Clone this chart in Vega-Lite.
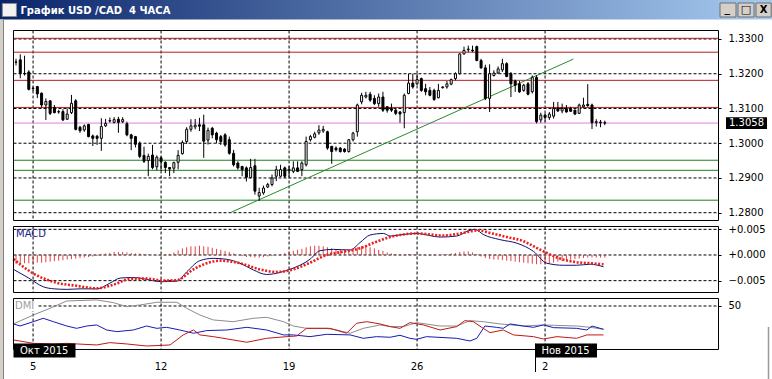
{
  "$schema": "https://vega.github.io/schema/vega-lite/v6.json",
  "width": 772,
  "height": 379,
  "autosize": {"type": "none"},
  "padding": 0,
  "background": "white",
  "config": {
    "view": {"stroke": null},
    "scale": {"continuousPadding": 0},
    "text": {"font": "DejaVu Sans", "fontSize": 10}
  },
  "data": {"values": [{}]},
  "datasets": {
    "candles": [
      {"i":0,"o":1.3233,"h":1.3243,"l":1.3224,"c":1.3234},{"i":1,"o":1.3240,"h":1.3256,"l":1.3187,"c":1.3201},{"i":2,"o":1.3200,"h":1.3252,"l":1.3195,"c":1.3201},{"i":3,"o":1.3205,"h":1.3210,"l":1.3152,"c":1.3155},{"i":4,"o":1.3158,"h":1.3163,"l":1.3150,"c":1.3157},
      {"i":5,"o":1.3163,"h":1.3165,"l":1.3130,"c":1.3142},{"i":6,"o":1.3144,"h":1.3146,"l":1.3103,"c":1.3110},{"i":7,"o":1.3110,"h":1.3129,"l":1.3067,"c":1.3120},{"i":8,"o":1.3122,"h":1.3124,"l":1.3081,"c":1.3086},{"i":9,"o":1.3103,"h":1.3110,"l":1.3086,"c":1.3088},
      {"i":10,"o":1.3090,"h":1.3096,"l":1.3085,"c":1.3091},{"i":11,"o":1.3091,"h":1.3098,"l":1.3064,"c":1.3067},{"i":12,"o":1.3069,"h":1.3100,"l":1.3067,"c":1.3084},{"i":13,"o":1.3088,"h":1.3139,"l":1.3084,"c":1.3115},{"i":14,"o":1.3122,"h":1.3127,"l":1.3037,"c":1.3040},
      {"i":15,"o":1.3046,"h":1.3050,"l":1.3030,"c":1.3036},{"i":16,"o":1.3038,"h":1.3054,"l":1.3033,"c":1.3050},{"i":17,"o":1.3054,"h":1.3056,"l":1.3017,"c":1.3019},{"i":18,"o":1.3021,"h":1.3025,"l":1.2992,"c":1.3014},{"i":19,"o":1.3020,"h":1.3024,"l":1.2995,"c":1.3014},
      {"i":20,"o":1.3014,"h":1.3072,"l":1.2978,"c":1.3048},{"i":21,"o":1.3050,"h":1.3070,"l":1.3047,"c":1.3057},{"i":22,"o":1.3064,"h":1.3074,"l":1.3059,"c":1.3065},{"i":23,"o":1.3060,"h":1.3075,"l":1.3057,"c":1.3068},{"i":24,"o":1.3069,"h":1.3076,"l":1.3030,"c":1.3060},
      {"i":25,"o":1.3062,"h":1.3075,"l":1.3058,"c":1.3068},{"i":26,"o":1.3056,"h":1.3062,"l":1.3020,"c":1.3024},{"i":27,"o":1.3024,"h":1.3027,"l":1.2980,"c":1.3014},{"i":28,"o":1.3019,"h":1.3021,"l":1.2988,"c":1.2997},{"i":29,"o":1.3000,"h":1.3005,"l":1.2957,"c":1.2962},
      {"i":30,"o":1.2965,"h":1.2990,"l":1.2943,"c":1.2948},{"i":31,"o":1.2950,"h":1.2970,"l":1.2905,"c":1.2962},{"i":32,"o":1.2966,"h":1.2995,"l":1.2925,"c":1.2930},{"i":33,"o":1.2932,"h":1.2965,"l":1.2922,"c":1.2960},{"i":34,"o":1.2958,"h":1.2962,"l":1.2920,"c":1.2947},
      {"i":35,"o":1.2945,"h":1.2948,"l":1.2914,"c":1.2930},{"i":36,"o":1.2930,"h":1.2931,"l":1.2905,"c":1.2926},{"i":37,"o":1.2928,"h":1.2947,"l":1.2914,"c":1.2944},{"i":38,"o":1.2945,"h":1.2980,"l":1.2925,"c":1.2965},{"i":39,"o":1.2970,"h":1.3008,"l":1.2967,"c":1.3002},
      {"i":40,"o":1.3005,"h":1.3046,"l":1.2998,"c":1.3040},{"i":41,"o":1.3040,"h":1.3069,"l":1.3033,"c":1.3050},{"i":42,"o":1.3047,"h":1.3070,"l":1.3040,"c":1.3052},{"i":43,"o":1.3053,"h":1.3073,"l":1.3035,"c":1.3049},{"i":44,"o":1.3053,"h":1.3082,"l":1.2958,"c":1.3006},
      {"i":45,"o":1.3009,"h":1.3045,"l":1.2996,"c":1.3037},{"i":46,"o":1.3043,"h":1.3047,"l":1.3014,"c":1.3024},{"i":47,"o":1.3029,"h":1.3033,"l":1.3000,"c":1.3010},{"i":48,"o":1.3019,"h":1.3024,"l":1.2995,"c":1.3005},{"i":49,"o":1.3024,"h":1.3029,"l":1.2990,"c":1.2995},
      {"i":50,"o":1.3010,"h":1.3019,"l":1.2967,"c":1.2971},{"i":51,"o":1.2971,"h":1.2981,"l":1.2933,"c":1.2938},{"i":52,"o":1.2943,"h":1.2948,"l":1.2924,"c":1.2929},{"i":53,"o":1.2933,"h":1.2935,"l":1.2905,"c":1.2924},{"i":54,"o":1.2929,"h":1.2933,"l":1.2890,"c":1.2902},
      {"i":55,"o":1.2901,"h":1.2955,"l":1.2899,"c":1.2930},{"i":56,"o":1.2935,"h":1.2955,"l":1.2852,"c":1.2862},{"i":57,"o":1.2848,"h":1.2872,"l":1.2834,"c":1.2858},{"i":58,"o":1.2857,"h":1.2878,"l":1.2852,"c":1.2871},{"i":59,"o":1.2874,"h":1.2886,"l":1.2871,"c":1.2881},
      {"i":60,"o":1.2881,"h":1.2910,"l":1.2876,"c":1.2900},{"i":61,"o":1.2905,"h":1.2935,"l":1.2891,"c":1.2924},{"i":62,"o":1.2905,"h":1.2938,"l":1.2903,"c":1.2924},{"i":63,"o":1.2929,"h":1.2933,"l":1.2900,"c":1.2905},{"i":64,"o":1.2922,"h":1.2935,"l":1.2903,"c":1.2925},
      {"i":65,"o":1.2919,"h":1.2948,"l":1.2914,"c":1.2929},{"i":66,"o":1.2929,"h":1.2948,"l":1.2917,"c":1.2919},{"i":67,"o":1.2924,"h":1.2948,"l":1.2905,"c":1.2943},{"i":68,"o":1.2938,"h":1.3019,"l":1.2933,"c":1.3005},{"i":69,"o":1.3010,"h":1.3024,"l":1.3005,"c":1.3019},
      {"i":70,"o":1.3017,"h":1.3033,"l":1.3014,"c":1.3027},{"i":71,"o":1.3030,"h":1.3052,"l":1.3024,"c":1.3038},{"i":72,"o":1.3035,"h":1.3050,"l":1.3030,"c":1.3040},{"i":73,"o":1.3033,"h":1.3036,"l":1.2981,"c":1.2986},{"i":74,"o":1.2991,"h":1.2992,"l":1.2941,"c":1.2976},
      {"i":75,"o":1.2986,"h":1.2991,"l":1.2976,"c":1.2981},{"i":76,"o":1.2986,"h":1.2989,"l":1.2973,"c":1.2976},{"i":77,"o":1.2983,"h":1.2986,"l":1.2973,"c":1.2976},{"i":78,"o":1.2976,"h":1.3012,"l":1.2973,"c":1.3010},{"i":79,"o":1.3010,"h":1.3033,"l":1.3005,"c":1.3029},
      {"i":80,"o":1.3033,"h":1.3114,"l":1.3019,"c":1.3110},{"i":81,"o":1.3119,"h":1.3145,"l":1.3112,"c":1.3138},{"i":82,"o":1.3133,"h":1.3148,"l":1.3129,"c":1.3138},{"i":83,"o":1.3141,"h":1.3148,"l":1.3119,"c":1.3124},{"i":84,"o":1.3129,"h":1.3138,"l":1.3110,"c":1.3114},
      {"i":85,"o":1.3114,"h":1.3143,"l":1.3105,"c":1.3133},{"i":86,"o":1.3133,"h":1.3148,"l":1.3090,"c":1.3095},{"i":87,"o":1.3105,"h":1.3107,"l":1.3088,"c":1.3095},{"i":88,"o":1.3100,"h":1.3114,"l":1.3090,"c":1.3095},{"i":89,"o":1.3095,"h":1.3100,"l":1.3081,"c":1.3086},
      {"i":90,"o":1.3090,"h":1.3093,"l":1.3059,"c":1.3084},{"i":91,"o":1.3088,"h":1.3143,"l":1.3043,"c":1.3138},{"i":92,"o":1.3143,"h":1.3200,"l":1.3141,"c":1.3173},{"i":93,"o":1.3173,"h":1.3200,"l":1.3157,"c":1.3162},{"i":94,"o":1.3171,"h":1.3200,"l":1.3167,"c":1.3183},
      {"i":95,"o":1.3186,"h":1.3189,"l":1.3148,"c":1.3152},{"i":96,"o":1.3157,"h":1.3171,"l":1.3138,"c":1.3148},{"i":97,"o":1.3152,"h":1.3162,"l":1.3135,"c":1.3138},{"i":98,"o":1.3152,"h":1.3157,"l":1.3122,"c":1.3126},{"i":99,"o":1.3131,"h":1.3171,"l":1.3129,"c":1.3152},
      {"i":100,"o":1.3160,"h":1.3164,"l":1.3157,"c":1.3162},{"i":101,"o":1.3162,"h":1.3179,"l":1.3157,"c":1.3171},{"i":102,"o":1.3170,"h":1.3186,"l":1.3167,"c":1.3183},{"i":103,"o":1.3186,"h":1.3204,"l":1.3181,"c":1.3200},{"i":104,"o":1.3200,"h":1.3259,"l":1.3198,"c":1.3257},
      {"i":105,"o":1.3257,"h":1.3278,"l":1.3255,"c":1.3267},{"i":106,"o":1.3269,"h":1.3281,"l":1.3262,"c":1.3271},{"i":107,"o":1.3268,"h":1.3281,"l":1.3262,"c":1.3266},{"i":108,"o":1.3278,"h":1.3281,"l":1.3236,"c":1.3238},{"i":109,"o":1.3238,"h":1.3243,"l":1.3214,"c":1.3217},
      {"i":110,"o":1.3217,"h":1.3226,"l":1.3124,"c":1.3129},{"i":111,"o":1.3129,"h":1.3227,"l":1.3090,"c":1.3200},{"i":112,"o":1.3195,"h":1.3210,"l":1.3192,"c":1.3202},{"i":113,"o":1.3202,"h":1.3221,"l":1.3200,"c":1.3214},{"i":114,"o":1.3211,"h":1.3243,"l":1.3205,"c":1.3229},
      {"i":115,"o":1.3229,"h":1.3233,"l":1.3190,"c":1.3192},{"i":116,"o":1.3200,"h":1.3205,"l":1.3133,"c":1.3171},{"i":117,"o":1.3179,"h":1.3183,"l":1.3148,"c":1.3167},{"i":118,"o":1.3171,"h":1.3179,"l":1.3145,"c":1.3148},{"i":119,"o":1.3152,"h":1.3171,"l":1.3148,"c":1.3167},
      {"i":120,"o":1.3171,"h":1.3176,"l":1.3138,"c":1.3141},{"i":121,"o":1.3148,"h":1.3195,"l":1.3143,"c":1.3190},{"i":122,"o":1.3189,"h":1.3195,"l":1.3057,"c":1.3062},{"i":123,"o":1.3067,"h":1.3088,"l":1.3059,"c":1.3081},{"i":124,"o":1.3081,"h":1.3086,"l":1.3062,"c":1.3074},
      {"i":125,"o":1.3074,"h":1.3090,"l":1.3067,"c":1.3084},{"i":126,"o":1.3078,"h":1.3119,"l":1.3071,"c":1.3100},{"i":127,"o":1.3100,"h":1.3119,"l":1.3090,"c":1.3093},{"i":128,"o":1.3093,"h":1.3114,"l":1.3086,"c":1.3100},{"i":129,"o":1.3100,"h":1.3110,"l":1.3088,"c":1.3090},
      {"i":130,"o":1.3100,"h":1.3105,"l":1.3090,"c":1.3092},{"i":131,"o":1.3095,"h":1.3097,"l":1.3081,"c":1.3084},{"i":132,"o":1.3086,"h":1.3114,"l":1.3084,"c":1.3110},{"i":133,"o":1.3105,"h":1.3131,"l":1.3103,"c":1.3110},{"i":134,"o":1.3112,"h":1.3170,"l":1.3105,"c":1.3108},
      {"i":135,"o":1.3110,"h":1.3114,"l":1.3041,"c":1.3059},{"i":136,"o":1.3060,"h":1.3069,"l":1.3048,"c":1.3062},{"i":137,"o":1.3061,"h":1.3067,"l":1.3046,"c":1.3059},{"i":138,"o":1.3059,"h":1.3065,"l":1.3052,"c":1.3058}
    ],
    "levels": [
      {"p":1.3302,"kind":"resistance"},{"p":1.3262,"kind":"resistance"},{"p":1.3181,"kind":"resistance"},{"p":1.3103,"kind":"resistance"},
      {"p":1.3058,"kind":"close"},
      {"p":1.2951,"kind":"support"},{"p":1.2922,"kind":"support"},{"p":1.2836,"kind":"support"}
    ],
    "trend": [{"i":50.2,"p":1.2800},{"i":130.6,"p":1.3242}],
    "pgrid": [{"p":1.28},{"p":1.29},{"p":1.30},{"p":1.31},{"p":1.32},{"p":1.33}],
    "mgrid": [{"v":-0.005},{"v":0},{"v":0.005}],
    "dgrid": [{"v":50}],
    "vgrid": [{"i":4,"day":"5"},{"i":34,"day":"12"},{"i":64,"day":"19"},{"i":94,"day":"26"},{"i":124,"day":"2"}],
    "macd": [
      {"i":-0.6,"v":-0.0028},{"i":3,"v":-0.0045},{"i":6.4,"v":-0.0062},{"i":9,"v":-0.0066},{"i":11.9,"v":-0.0067},{"i":15,"v":-0.0066},{"i":18.9,"v":-0.0066},{"i":22,"v":-0.0055},{"i":24.4,"v":-0.0045},{"i":27,"v":-0.0044},{"i":29.1,"v":-0.0045},{"i":32,"v":-0.0050},{"i":34.1,"v":-0.0052},{"i":37.7,"v":-0.0051},{"i":40,"v":-0.0033},{"i":43.1,"v":-0.0011},{"i":46.2,"v":-0.00065},{"i":49.4,"v":-0.00084},{"i":52.5,"v":-0.0016},{"i":55.6,"v":-0.0029},{"i":58.75,"v":-0.0038},{"i":61.9,"v":-0.0034},{"i":64.2,"v":-0.0028},{"i":68.9,"v":-0.00084},{"i":71.25,"v":0.00084},{"i":74.4,"v":0.0011},{"i":78.3,"v":0.00097},{"i":80.6,"v":0.0024},{"i":83,"v":0.0039},{"i":86.1,"v":0.0042},{"i":87.7,"v":0.0037},{"i":90.8,"v":0.0040},{"i":93.9,"v":0.0042},{"i":99.4,"v":0.0035},{"i":103.3,"v":0.0037},{"i":106,"v":0.0047},{"i":107.6,"v":0.0050},{"i":109.5,"v":0.0040},{"i":113.4,"v":0.0030},{"i":117.4,"v":0.0023},{"i":121.3,"v":0.0007},{"i":124.4,"v":-0.0016},{"i":128.3,"v":-0.0020},{"i":131.4,"v":-0.0020},{"i":134.6,"v":-0.0018},{"i":137.7,"v":-0.0023}
    ],
    "signal": [
      {"i":-0.6,"v":-0.0008},{"i":4.06,"v":-0.0036},{"i":9.5,"v":-0.0054},{"i":14.2,"v":-0.0060},{"i":18.9,"v":-0.0065},{"i":22.8,"v":-0.0058},{"i":26.7,"v":-0.0047},{"i":30.6,"v":-0.0046},{"i":34.5,"v":-0.0050},{"i":37.7,"v":-0.0049},{"i":41.6,"v":-0.0028},{"i":44.7,"v":-0.0016},{"i":47.8,"v":-0.0011},{"i":52.5,"v":-0.0016},{"i":57.2,"v":-0.0028},{"i":61.1,"v":-0.0033},{"i":65,"v":-0.0028},{"i":68.9,"v":-0.0015},{"i":72.8,"v":0.0},{"i":76.7,"v":0.00065},{"i":80.6,"v":0.0013},{"i":84.5,"v":0.0026},{"i":87.7,"v":0.0035},{"i":93.9,"v":0.0042},{"i":100.2,"v":0.0038},{"i":104.1,"v":0.0042},{"i":108.4,"v":0.0048},{"i":111.1,"v":0.0043},{"i":115,"v":0.0035},{"i":118.9,"v":0.0027},{"i":122,"v":0.0014},{"i":124.4,"v":0.0004},{"i":127.5,"v":-0.0007},{"i":131.4,"v":-0.0014},{"i":134.6,"v":-0.0016},{"i":137.7,"v":-0.0018}
    ],
    "hist": [
      {"i":0,"h":-0.0017},{"i":1,"h":-0.0017},{"i":2,"h":-0.0016},{"i":3,"h":-0.0016},{"i":4,"h":-0.0016},{"i":5,"h":-0.0015},{"i":6,"h":-0.0015},{"i":7,"h":-0.0014},{"i":8,"h":-0.0013},{"i":9,"h":-0.0012},
      {"i":10,"h":-0.0011},{"i":11,"h":-0.0010},{"i":12,"h":-0.0009},{"i":13,"h":-0.0008},{"i":14,"h":-0.0007},{"i":15,"h":-0.0006},{"i":16,"h":-0.0005},{"i":17,"h":-0.0004},{"i":18,"h":-0.0003},{"i":19,"h":-0.0002},
      {"i":20,"h":0.0001},{"i":21,"h":0.0003},{"i":22,"h":0.0004},{"i":23,"h":0.0006},{"i":24,"h":0.0006},{"i":25,"h":0.0006},{"i":26,"h":0.0005},{"i":27,"h":0.0004},{"i":28,"h":0.0003},{"i":29,"h":0.0003},
      {"i":30,"h":0.0002},{"i":31,"h":0.0001},{"i":32,"h":0.0000},{"i":33,"h":-0.0001},{"i":34,"h":-0.0001},{"i":35,"h":-0.0001},{"i":36,"h":0.0002},{"i":37,"h":0.0005},{"i":38,"h":0.0009},{"i":39,"h":0.0013},
      {"i":40,"h":0.0015},{"i":41,"h":0.0017},{"i":42,"h":0.0017},{"i":43,"h":0.0018},{"i":44,"h":0.0017},{"i":45,"h":0.0016},{"i":46,"h":0.0014},{"i":47,"h":0.0012},{"i":48,"h":0.0010},{"i":49,"h":0.0008},
      {"i":50,"h":0.0006},{"i":51,"h":0.0003},{"i":52,"h":0.0000},{"i":53,"h":-0.0002},{"i":54,"h":-0.0004},{"i":55,"h":-0.0004},{"i":56,"h":-0.0005},{"i":57,"h":-0.0005},{"i":58,"h":-0.0004},{"i":59,"h":-0.0003},
      {"i":60,"h":-0.0002},{"i":61,"h":0.0000},{"i":62,"h":0.0002},{"i":63,"h":0.0004},{"i":64,"h":0.0006},{"i":65,"h":0.0008},{"i":66,"h":0.0010},{"i":67,"h":0.0012},{"i":68,"h":0.0015},{"i":69,"h":0.0017},
      {"i":70,"h":0.0018},{"i":71,"h":0.0018},{"i":72,"h":0.0017},{"i":73,"h":0.0015},{"i":74,"h":0.0013},{"i":75,"h":0.0011},{"i":76,"h":0.0010},{"i":77,"h":0.0009},{"i":78,"h":0.0010},{"i":79,"h":0.0012},
      {"i":80,"h":0.0015},{"i":81,"h":0.0017},{"i":82,"h":0.0017},{"i":83,"h":0.0015},{"i":84,"h":0.0013},{"i":85,"h":0.0010},{"i":86,"h":0.0008},{"i":87,"h":0.0005},{"i":88,"h":0.0003},{"i":89,"h":0.0002},
      {"i":90,"h":0.0001},{"i":91,"h":0.0001},{"i":92,"h":0.0002},{"i":93,"h":0.0001},{"i":94,"h":0.0001},{"i":95,"h":0.0000},{"i":96,"h":-0.0001},{"i":97,"h":-0.0001},{"i":98,"h":-0.0001},{"i":99,"h":0.0000},
      {"i":100,"h":0.0001},{"i":101,"h":0.0002},{"i":102,"h":0.0003},{"i":103,"h":0.0004},{"i":104,"h":0.0006},{"i":105,"h":0.0007},{"i":106,"h":0.0007},{"i":107,"h":0.0005},{"i":108,"h":0.0002},{"i":109,"h":-0.0003},
      {"i":110,"h":-0.0006},{"i":111,"h":-0.0008},{"i":112,"h":-0.0009},{"i":113,"h":-0.0009},{"i":114,"h":-0.0010},{"i":115,"h":-0.0011},{"i":116,"h":-0.0012},{"i":117,"h":-0.0013},{"i":118,"h":-0.0014},{"i":119,"h":-0.0015},
      {"i":120,"h":-0.0016},{"i":121,"h":-0.0017},{"i":122,"h":-0.0018},{"i":123,"h":-0.0018},{"i":124,"h":-0.0017},{"i":125,"h":-0.0016},{"i":126,"h":-0.0015},{"i":127,"h":-0.0013},{"i":128,"h":-0.0012},{"i":129,"h":-0.0010},
      {"i":130,"h":-0.0009},{"i":131,"h":-0.0008},{"i":132,"h":-0.0007},{"i":133,"h":-0.0006},{"i":134,"h":-0.0005},{"i":135,"h":-0.0005},{"i":136,"h":-0.0005},{"i":137,"h":-0.0005},{"i":138,"h":-0.0005}
    ],
    "adx": [
      {"i":-0.6,"v":29.3},{"i":4.06,"v":39.6},{"i":7.96,"v":47.3},{"i":11.9,"v":55.8},{"i":18.9,"v":57.0},{"i":22.8,"v":53.9},{"i":25.9,"v":49.3},{"i":29.1,"v":51.2},{"i":33,"v":54.3},{"i":37.7,"v":54.3},{"i":40,"v":47.3},{"i":43.1,"v":39.6},{"i":46.25,"v":33.9},{"i":50.9,"v":31.9},{"i":55.6,"v":35.8},{"i":58.75,"v":36.9},{"i":62.7,"v":31.9},{"i":65,"v":26.9},{"i":68.1,"v":24.2},{"i":72.8,"v":24.2},{"i":75.2,"v":22.3},{"i":78.3,"v":18.5},{"i":81.4,"v":24.2},{"i":85.3,"v":28.1},{"i":87.7,"v":26.2},{"i":90.8,"v":26.2},{"i":93.9,"v":30.8},{"i":99.4,"v":26.9},{"i":103.3,"v":26.9},{"i":106.4,"v":33.1},{"i":109.5,"v":31.9},{"i":113.4,"v":29.3},{"i":118.9,"v":26.9},{"i":123.6,"v":28.1},{"i":131.4,"v":26.9},{"i":134.6,"v":25.4},{"i":137.7,"v":23.1}
    ],
    "pdi": [
      {"i":-0.6,"v":29.3},{"i":0.94,"v":26.9},{"i":4.06,"v":31.9},{"i":6.4,"v":35.8},{"i":8.75,"v":31.9},{"i":11.9,"v":26.9},{"i":14.2,"v":24.2},{"i":16.6,"v":26.9},{"i":18.9,"v":28.1},{"i":21.25,"v":22.3},{"i":23.6,"v":20.4},{"i":27.5,"v":22.3},{"i":30.6,"v":26.9},{"i":33,"v":24.2},{"i":35.3,"v":25.4},{"i":38.4,"v":22.3},{"i":41.6,"v":18.5},{"i":44.7,"v":21.6},{"i":49.4,"v":22.3},{"i":54.1,"v":25.4},{"i":58.75,"v":22.3},{"i":62.7,"v":16.6},{"i":65,"v":16.6},{"i":68.9,"v":14.6},{"i":72.8,"v":17.3},{"i":78.3,"v":16.6},{"i":81.4,"v":12.7},{"i":84.5,"v":14.6},{"i":87.7,"v":13.9},{"i":90,"v":16.2},{"i":92.3,"v":12.7},{"i":93.9,"v":11.5},{"i":96.2,"v":14.6},{"i":103.3,"v":12.7},{"i":106.4,"v":9.6},{"i":108,"v":12.7},{"i":109.9,"v":26.9},{"i":112.6,"v":25.4},{"i":114.2,"v":24.2},{"i":115.8,"v":29.3},{"i":118.9,"v":26.9},{"i":121.3,"v":25.4},{"i":123.6,"v":28.1},{"i":126,"v":25.0},{"i":131.4,"v":24.2},{"i":133.8,"v":22.3},{"i":135,"v":26.9},{"i":137.7,"v":23.1}
    ],
    "mdi": [
      {"i":-0.6,"v":10.8},{"i":4.06,"v":6.9},{"i":8.75,"v":6.2},{"i":11.9,"v":6.9},{"i":14.2,"v":6.2},{"i":18.9,"v":5.0},{"i":22,"v":7.7},{"i":25.9,"v":6.2},{"i":30.6,"v":3.8},{"i":36.1,"v":5.0},{"i":39.2,"v":16.6},{"i":41.6,"v":22.3},{"i":43.1,"v":16.6},{"i":46.25,"v":14.6},{"i":50.9,"v":10.8},{"i":54.1,"v":8.1},{"i":58.75,"v":12.7},{"i":63.4,"v":14.6},{"i":65.8,"v":15.4},{"i":68.1,"v":24.2},{"i":73.6,"v":24.2},{"i":77.5,"v":18.5},{"i":79.8,"v":30.0},{"i":82.2,"v":31.9},{"i":85.3,"v":29.3},{"i":87.7,"v":26.2},{"i":90,"v":24.2},{"i":92.3,"v":30.8},{"i":95.5,"v":28.1},{"i":99.4,"v":22.3},{"i":103.3,"v":26.2},{"i":105.2,"v":33.1},{"i":107.2,"v":31.9},{"i":109.5,"v":24.2},{"i":111.1,"v":19.2},{"i":114.2,"v":22.3},{"i":116.6,"v":16.6},{"i":121.3,"v":14.6},{"i":123.6,"v":11.9},{"i":126.8,"v":14.6},{"i":131.4,"v":12.7},{"i":133.8,"v":16.6},{"i":137.7,"v":16.6}
    ]
  },
  "resolve": {"scale": {"y": "independent"}, "axis": {"y": "independent"}},
  "layer": [
    {
      "mark": {"type": "rect", "fill": {"gradient": "linear", "x1": 0, "y1": 0, "x2": 1, "y2": 0, "stops": [{"offset": 0, "color": "#0a246a"}, {"offset": 1, "color": "#a6caf0"}]}},
      "encoding": {
        "x": {"datum": -3.75, "type": "quantitative", "scale": {"domain": [-3.75, 177.1875], "nice": false, "zero": false, "padding": 0}, "axis": null},
        "x2": {"datum": 177.1875},
        "y": {"datum": 1.341226, "type": "quantitative", "scale": {"domain": [1.23213, 1.341226], "nice": false, "zero": false}, "axis": null},
        "y2": {"datum": 1.335613}
      }
    },
    {
      "mark": {"type": "rect", "fill": "#f2f2f2", "stroke": "#8a8a8a", "strokeWidth": 1},
      "encoding": {
        "x": {"datum": -3.2, "type": "quantitative", "scale": {"domain": [-3.75, 177.1875], "nice": false, "zero": false, "padding": 0}, "axis": null},
        "x2": {"datum": 0.1},
        "y": {"datum": 1.34022, "type": "quantitative", "scale": {"domain": [1.23213, 1.341226], "nice": false, "zero": false}, "axis": null},
        "y2": {"datum": 1.33648}
      }
    },
    {
      "mark": {"type": "text", "text": "График USD /CAD\u00a0 4 ЧАСА", "font": "DejaVu Sans", "fontSize": 10, "fontWeight": "bold", "fill": "#ffffff", "align": "left", "baseline": "alphabetic"},
      "encoding": {
        "x": {"datum": 1.05, "type": "quantitative", "scale": {"domain": [-3.75, 177.1875], "nice": false, "zero": false, "padding": 0}, "axis": null},
        "y": {"datum": 1.337196, "type": "quantitative", "scale": {"domain": [1.23213, 1.341226], "nice": false, "zero": false}, "axis": null}
      }
    },
    {
      "mark": {"type": "rect", "fill": "#d4d0c8", "stroke": "#6f6f6f", "strokeWidth": 1},
      "encoding": {
        "x": {"datum": 165.0, "type": "quantitative", "scale": {"domain": [-3.75, 177.1875], "nice": false, "zero": false, "padding": 0}, "axis": null},
        "x2": {"datum": 168.75},
        "y": {"datum": 1.340362, "type": "quantitative", "scale": {"domain": [1.23213, 1.341226], "nice": false, "zero": false}, "axis": null},
        "y2": {"datum": 1.336333}
      }
    },
    {
      "mark": {"type": "rect", "fill": "#d4d0c8", "stroke": "#6f6f6f", "strokeWidth": 1},
      "encoding": {
        "x": {"datum": 169.22, "type": "quantitative", "scale": {"domain": [-3.75, 177.1875], "nice": false, "zero": false, "padding": 0}, "axis": null},
        "x2": {"datum": 172.97},
        "y": {"datum": 1.340362, "type": "quantitative", "scale": {"domain": [1.23213, 1.341226], "nice": false, "zero": false}, "axis": null},
        "y2": {"datum": 1.336333}
      }
    },
    {
      "mark": {"type": "rect", "fill": "#d4d0c8", "stroke": "#6f6f6f", "strokeWidth": 1},
      "encoding": {
        "x": {"datum": 173.44, "type": "quantitative", "scale": {"domain": [-3.75, 177.1875], "nice": false, "zero": false, "padding": 0}, "axis": null},
        "x2": {"datum": 177.0},
        "y": {"datum": 1.340362, "type": "quantitative", "scale": {"domain": [1.23213, 1.341226], "nice": false, "zero": false}, "axis": null},
        "y2": {"datum": 1.336333}
      }
    },
    {
      "mark": {"type": "text", "text": "_", "font": "DejaVu Sans", "fontSize": 11, "fontWeight": "bold", "fill": "#000000", "align": "center", "baseline": "alphabetic"},
      "encoding": {
        "x": {"datum": 166.7, "type": "quantitative", "scale": {"domain": [-3.75, 177.1875], "nice": false, "zero": false, "padding": 0}, "axis": null},
        "y": {"datum": 1.33778, "type": "quantitative", "scale": {"domain": [1.23213, 1.341226], "nice": false, "zero": false}, "axis": null}
      }
    },
    {
      "mark": {"type": "text", "text": "□", "font": "DejaVu Sans", "fontSize": 11, "fontWeight": "bold", "fill": "#000000", "align": "center", "baseline": "middle"},
      "encoding": {
        "x": {"datum": 171.09, "type": "quantitative", "scale": {"domain": [-3.75, 177.1875], "nice": false, "zero": false, "padding": 0}, "axis": null},
        "y": {"datum": 1.33835, "type": "quantitative", "scale": {"domain": [1.23213, 1.341226], "nice": false, "zero": false}, "axis": null}
      }
    },
    {
      "mark": {"type": "text", "text": "X", "font": "DejaVu Sans", "fontSize": 10, "fontWeight": "bold", "fill": "#000000", "align": "center", "baseline": "middle"},
      "encoding": {
        "x": {"datum": 175.25, "type": "quantitative", "scale": {"domain": [-3.75, 177.1875], "nice": false, "zero": false, "padding": 0}, "axis": null},
        "y": {"datum": 1.33835, "type": "quantitative", "scale": {"domain": [1.23213, 1.341226], "nice": false, "zero": false}, "axis": null}
      }
    },
    {
      "mark": {"type": "rect", "fill": "#d4d0c8"},
      "encoding": {
        "x": {"datum": -3.75, "type": "quantitative", "scale": {"domain": [-3.75, 177.1875], "nice": false, "zero": false, "padding": 0}, "axis": null},
        "x2": {"datum": -3.047},
        "y": {"datum": 1.335613, "type": "quantitative", "scale": {"domain": [1.23213, 1.341226], "nice": false, "zero": false}, "axis": null},
        "y2": {"datum": 1.23213}
      }
    },
    {
      "mark": {"type": "rule", "color": "#808080", "strokeWidth": 1},
      "encoding": {
        "x": {"datum": -2.93, "type": "quantitative", "scale": {"domain": [-3.75, 177.1875], "nice": false, "zero": false, "padding": 0}, "axis": null},
        "y": {"datum": 1.335613, "type": "quantitative", "scale": {"domain": [1.23213, 1.341226], "nice": false, "zero": false}, "axis": null},
        "y2": {"datum": 1.23213}
      }
    },
    {
      "data": {"name": "pgrid"},
      "mark": {"type": "rule", "color": "#000000", "strokeWidth": 1, "strokeDash": [3, 2]},
      "encoding": {
        "x": {"datum": -0.586, "type": "quantitative", "scale": {"domain": [-3.75, 177.1875], "nice": false, "zero": false, "padding": 0}, "axis": null},
        "x2": {"datum": 164.65},
        "y": {"field": "p", "type": "quantitative", "scale": {"domain": [1.23213, 1.341226], "nice": false, "zero": false},
          "axis": {"orient": "right", "offset": -54, "values": [1.28, 1.29, 1.30, 1.31, 1.32, 1.33], "format": ".4f", "title": null, "domain": false, "grid": false, "ticks": true, "tickSize": 3, "tickColor": "#000000", "labelPadding": 7, "labelFont": "DejaVu Sans", "labelFontSize": 10, "labelColor": "#000000", "labelOverlap": false, "labelBound": false}}
      }
    },
    {
      "data": {"name": "vgrid"},
      "mark": {"type": "rule", "color": "#000000", "strokeWidth": 1, "strokeDash": [3, 2]},
      "encoding": {
        "x": {"field": "i", "type": "quantitative", "scale": {"domain": [-3.75, 177.1875], "nice": false, "zero": false, "padding": 0}, "axis": null},
        "y": {"datum": 1.332447, "type": "quantitative", "scale": {"domain": [1.23213, 1.341226], "nice": false, "zero": false}, "axis": null},
        "y2": {"datum": 1.277755}
      }
    },
    {
      "data": {"name": "levels"},
      "mark": {"type": "rule", "strokeWidth": 1},
      "encoding": {
        "x": {"datum": -0.586, "type": "quantitative", "scale": {"domain": [-3.75, 177.1875], "nice": false, "zero": false, "padding": 0}, "axis": null},
        "x2": {"datum": 164.65},
        "y": {"field": "p", "type": "quantitative", "scale": {"domain": [1.23213, 1.341226], "nice": false, "zero": false}, "axis": null},
        "color": {"field": "kind", "type": "nominal", "scale": {"domain": ["resistance", "close", "support"], "range": ["#b51e1e", "#df80df", "#1f7f1f"]}, "legend": null}
      }
    },
    {
      "data": {"name": "trend"},
      "mark": {"type": "line", "color": "#2a8a2a", "strokeWidth": 1},
      "encoding": {
        "x": {"field": "i", "type": "quantitative", "scale": {"domain": [-3.75, 177.1875], "nice": false, "zero": false, "padding": 0}, "axis": null},
        "y": {"field": "p", "type": "quantitative", "scale": {"domain": [1.23213, 1.341226], "nice": false, "zero": false}, "axis": null}
      }
    },
    {
      "data": {"name": "candles"},
      "mark": {"type": "rule", "color": "#000000", "strokeWidth": 1},
      "encoding": {
        "x": {"field": "i", "type": "quantitative", "scale": {"domain": [-3.75, 177.1875], "nice": false, "zero": false, "padding": 0}, "axis": null},
        "y": {"field": "h", "type": "quantitative", "scale": {"domain": [1.23213, 1.341226], "nice": false, "zero": false}, "axis": null},
        "y2": {"field": "l"}
      }
    },
    {
      "data": {"name": "candles"},
      "mark": {"type": "bar", "size": 2, "stroke": "#000000", "strokeWidth": 1},
      "encoding": {
        "x": {"field": "i", "type": "quantitative", "scale": {"domain": [-3.75, 177.1875], "nice": false, "zero": false, "padding": 0}, "axis": null},
        "y": {"field": "o", "type": "quantitative", "scale": {"domain": [1.23213, 1.341226], "nice": false, "zero": false}, "axis": null},
        "y2": {"field": "c"},
        "fill": {"condition": {"test": "datum.c < datum.o", "value": "#000000"}, "value": "#ffffff"}
      }
    },
    {
      "mark": {"type": "rect", "fill": null, "stroke": "#000000", "strokeWidth": 1},
      "encoding": {
        "x": {"datum": -0.586, "type": "quantitative", "scale": {"domain": [-3.75, 177.1875], "nice": false, "zero": false, "padding": 0}, "axis": null},
        "x2": {"datum": 164.65},
        "y": {"datum": 1.332447, "type": "quantitative", "scale": {"domain": [1.23213, 1.341226], "nice": false, "zero": false}, "axis": null},
        "y2": {"datum": 1.277755}
      }
    },
    {
      "mark": {"type": "rect", "fill": "#000000"},
      "encoding": {
        "x": {"datum": 166.41, "type": "quantitative", "scale": {"domain": [-3.75, 177.1875], "nice": false, "zero": false, "padding": 0}, "axis": null},
        "x2": {"datum": 176.02},
        "y": {"datum": 1.307461, "type": "quantitative", "scale": {"domain": [1.23213, 1.341226], "nice": false, "zero": false}, "axis": null},
        "y2": {"datum": 1.304093}
      }
    },
    {
      "mark": {"type": "text", "text": "1.3058", "font": "DejaVu Sans", "fontSize": 10, "fill": "#ffffff", "align": "left", "baseline": "middle"},
      "encoding": {
        "x": {"datum": 167.11, "type": "quantitative", "scale": {"domain": [-3.75, 177.1875], "nice": false, "zero": false, "padding": 0}, "axis": null},
        "y": {"datum": 1.30575, "type": "quantitative", "scale": {"domain": [1.23213, 1.341226], "nice": false, "zero": false}, "axis": null}
      }
    },
    {
      "data": {"name": "mgrid"},
      "mark": {"type": "rule", "color": "#000000", "strokeWidth": 1, "strokeDash": [3, 2]},
      "encoding": {
        "x": {"datum": -0.586, "type": "quantitative", "scale": {"domain": [-3.75, 177.1875], "nice": false, "zero": false, "padding": 0}, "axis": null},
        "x2": {"datum": 164.65},
        "y": {"field": "v", "type": "quantitative", "scale": {"domain": [-0.024172, 0.049708], "nice": false, "zero": false},
          "axis": {"orient": "right", "offset": -54, "values": [-0.005, 0, 0.005], "format": "+.3f", "title": null, "domain": false, "grid": false, "ticks": true, "tickSize": 3, "tickColor": "#000000", "labelPadding": 7, "labelFont": "DejaVu Sans", "labelFontSize": 10, "labelColor": "#000000", "labelOverlap": false, "labelBound": false}}
      }
    },
    {
      "data": {"name": "vgrid"},
      "mark": {"type": "rule", "color": "#000000", "strokeWidth": 1, "strokeDash": [3, 2]},
      "encoding": {
        "x": {"field": "i", "type": "quantitative", "scale": {"domain": [-3.75, 177.1875], "nice": false, "zero": false, "padding": 0}, "axis": null},
        "y": {"datum": 0.005555, "type": "quantitative", "scale": {"domain": [-0.024172, 0.049708], "nice": false, "zero": false}, "axis": null},
        "y2": {"datum": -0.007311}
      }
    },
    {
      "data": {"name": "hist"},
      "mark": {"type": "rule", "color": "#e02020", "strokeWidth": 1, "opacity": 0.85},
      "encoding": {
        "x": {"field": "i", "type": "quantitative", "scale": {"domain": [-3.75, 177.1875], "nice": false, "zero": false, "padding": 0}, "axis": null},
        "y": {"field": "h", "type": "quantitative", "scale": {"domain": [-0.024172, 0.049708], "nice": false, "zero": false}, "axis": null},
        "y2": {"datum": 0}
      }
    },
    {
      "data": {"name": "macd"},
      "mark": {"type": "line", "color": "#101070", "strokeWidth": 1, "interpolate": "monotone"},
      "encoding": {
        "x": {"field": "i", "type": "quantitative", "scale": {"domain": [-3.75, 177.1875], "nice": false, "zero": false, "padding": 0}, "axis": null},
        "y": {"field": "v", "type": "quantitative", "scale": {"domain": [-0.024172, 0.049708], "nice": false, "zero": false}, "axis": null}
      }
    },
    {
      "data": {"name": "signal"},
      "mark": {"type": "line", "color": "#ee1c1c", "strokeWidth": 2.6, "strokeDash": [2, 1.6], "interpolate": "monotone"},
      "encoding": {
        "x": {"field": "i", "type": "quantitative", "scale": {"domain": [-3.75, 177.1875], "nice": false, "zero": false, "padding": 0}, "axis": null},
        "y": {"field": "v", "type": "quantitative", "scale": {"domain": [-0.024172, 0.049708], "nice": false, "zero": false}, "axis": null}
      }
    },
    {
      "mark": {"type": "rect", "fill": null, "stroke": "#000000", "strokeWidth": 1},
      "encoding": {
        "x": {"datum": -0.586, "type": "quantitative", "scale": {"domain": [-3.75, 177.1875], "nice": false, "zero": false, "padding": 0}, "axis": null},
        "x2": {"datum": 164.65},
        "y": {"datum": 0.005555, "type": "quantitative", "scale": {"domain": [-0.024172, 0.049708], "nice": false, "zero": false}, "axis": null},
        "y2": {"datum": -0.007311}
      }
    },
    {
      "mark": {"type": "text", "text": "MACD", "font": "DejaVu Sans", "fontSize": 10, "fill": "#20208a", "align": "left", "baseline": "middle"},
      "encoding": {
        "x": {"datum": 0.0, "type": "quantitative", "scale": {"domain": [-3.75, 177.1875], "nice": false, "zero": false, "padding": 0}, "axis": null},
        "y": {"datum": 0.00405, "type": "quantitative", "scale": {"domain": [-0.024172, 0.049708], "nice": false, "zero": false}, "axis": null}
      }
    },
    {
      "data": {"name": "dgrid"},
      "mark": {"type": "rule", "color": "#000000", "strokeWidth": 1, "strokeDash": [3, 2]},
      "encoding": {
        "x": {"datum": -0.586, "type": "quantitative", "scale": {"domain": [-3.75, 177.1875], "nice": false, "zero": false, "padding": 0}, "axis": null},
        "x2": {"datum": 164.65},
        "y": {"field": "v", "type": "quantitative", "scale": {"domain": [-34.3, 403.35], "nice": false, "zero": false},
          "axis": {"orient": "right", "offset": -54, "values": [50], "format": "d", "title": null, "domain": false, "grid": false, "ticks": true, "tickSize": 3, "tickColor": "#000000", "labelPadding": 7, "labelFont": "DejaVu Sans", "labelFontSize": 10, "labelColor": "#000000", "labelOverlap": false, "labelBound": false}}
      }
    },
    {
      "data": {"name": "vgrid"},
      "mark": {"type": "rule", "color": "#000000", "strokeWidth": 1, "strokeDash": [3, 2]},
      "encoding": {
        "x": {"field": "i", "type": "quantitative", "scale": {"domain": [-3.75, 177.1875], "nice": false, "zero": false, "padding": 0}, "axis": null},
        "y": {"datum": 58.66, "type": "quantitative", "scale": {"domain": [-34.3, 403.35], "nice": false, "zero": false}, "axis": null},
        "y2": {"datum": -0.23}
      }
    },
    {
      "data": {"name": "adx"},
      "mark": {"type": "line", "color": "#8c8c8c", "strokeWidth": 1},
      "encoding": {
        "x": {"field": "i", "type": "quantitative", "scale": {"domain": [-3.75, 177.1875], "nice": false, "zero": false, "padding": 0}, "axis": null},
        "y": {"field": "v", "type": "quantitative", "scale": {"domain": [-34.3, 403.35], "nice": false, "zero": false}, "axis": null}
      }
    },
    {
      "data": {"name": "pdi"},
      "mark": {"type": "line", "color": "#1a1ab4", "strokeWidth": 1},
      "encoding": {
        "x": {"field": "i", "type": "quantitative", "scale": {"domain": [-3.75, 177.1875], "nice": false, "zero": false, "padding": 0}, "axis": null},
        "y": {"field": "v", "type": "quantitative", "scale": {"domain": [-34.3, 403.35], "nice": false, "zero": false}, "axis": null}
      }
    },
    {
      "data": {"name": "mdi"},
      "mark": {"type": "line", "color": "#c01818", "strokeWidth": 1},
      "encoding": {
        "x": {"field": "i", "type": "quantitative", "scale": {"domain": [-3.75, 177.1875], "nice": false, "zero": false, "padding": 0}, "axis": null},
        "y": {"field": "v", "type": "quantitative", "scale": {"domain": [-34.3, 403.35], "nice": false, "zero": false}, "axis": null}
      }
    },
    {
      "mark": {"type": "rect", "fill": null, "stroke": "#000000", "strokeWidth": 1},
      "encoding": {
        "x": {"datum": -0.586, "type": "quantitative", "scale": {"domain": [-3.75, 177.1875], "nice": false, "zero": false, "padding": 0}, "axis": null},
        "x2": {"datum": 164.65},
        "y": {"datum": 58.66, "type": "quantitative", "scale": {"domain": [-34.3, 403.35], "nice": false, "zero": false}, "axis": null},
        "y2": {"datum": -0.23}
      }
    },
    {
      "mark": {"type": "rect", "fill": "#ffffff"},
      "encoding": {
        "x": {"datum": -0.47, "type": "quantitative", "scale": {"domain": [-3.75, 177.1875], "nice": false, "zero": false, "padding": 0}, "axis": null},
        "x2": {"datum": 5.04},
        "y": {"datum": 55.77, "type": "quantitative", "scale": {"domain": [-34.3, 403.35], "nice": false, "zero": false}, "axis": null},
        "y2": {"datum": 44.22}
      }
    },
    {
      "mark": {"type": "text", "text": "DMI", "font": "DejaVu Sans", "fontSize": 10, "fill": "#a0a0a0", "align": "left", "baseline": "middle"},
      "encoding": {
        "x": {"datum": -0.234, "type": "quantitative", "scale": {"domain": [-3.75, 177.1875], "nice": false, "zero": false, "padding": 0}, "axis": null},
        "y": {"datum": 50, "type": "quantitative", "scale": {"domain": [-34.3, 403.35], "nice": false, "zero": false}, "axis": null}
      }
    },
    {
      "mark": {"type": "rect", "fill": "#000000"},
      "encoding": {
        "x": {"datum": -0.586, "type": "quantitative", "scale": {"domain": [-3.75, 177.1875], "nice": false, "zero": false, "padding": 0}, "axis": null},
        "x2": {"datum": 13.945},
        "y": {"datum": 6.69, "type": "quantitative", "scale": {"domain": [-34.3, 403.35], "nice": false, "zero": false}, "axis": null},
        "y2": {"datum": -9.47}
      }
    },
    {
      "mark": {"type": "text", "text": "Окт 2015", "font": "DejaVu Sans", "fontSize": 10, "fill": "#ffffff", "align": "left", "baseline": "middle"},
      "encoding": {
        "x": {"datum": 0.9375, "type": "quantitative", "scale": {"domain": [-3.75, 177.1875], "nice": false, "zero": false, "padding": 0}, "axis": null},
        "y": {"datum": -1.39, "type": "quantitative", "scale": {"domain": [-34.3, 403.35], "nice": false, "zero": false}, "axis": null}
      }
    },
    {
      "mark": {"type": "rule", "color": "#000000", "strokeWidth": 1},
      "encoding": {
        "x": {"datum": 121.76, "type": "quantitative", "scale": {"domain": [-3.75, 177.1875], "nice": false, "zero": false, "padding": 0}, "axis": null},
        "y": {"datum": 6.69, "type": "quantitative", "scale": {"domain": [-34.3, 403.35], "nice": false, "zero": false}, "axis": null},
        "y2": {"datum": -26.22}
      }
    },
    {
      "mark": {"type": "rect", "fill": "#000000"},
      "encoding": {
        "x": {"datum": 121.76, "type": "quantitative", "scale": {"domain": [-3.75, 177.1875], "nice": false, "zero": false, "padding": 0}, "axis": null},
        "x2": {"datum": 136.17},
        "y": {"datum": 6.69, "type": "quantitative", "scale": {"domain": [-34.3, 403.35], "nice": false, "zero": false}, "axis": null},
        "y2": {"datum": -9.47}
      }
    },
    {
      "mark": {"type": "text", "text": "Нов 2015", "font": "DejaVu Sans", "fontSize": 10, "fill": "#ffffff", "align": "left", "baseline": "middle"},
      "encoding": {
        "x": {"datum": 123.16, "type": "quantitative", "scale": {"domain": [-3.75, 177.1875], "nice": false, "zero": false, "padding": 0}, "axis": null},
        "y": {"datum": -1.39, "type": "quantitative", "scale": {"domain": [-34.3, 403.35], "nice": false, "zero": false}, "axis": null}
      }
    },
    {
      "data": {"name": "vgrid"},
      "mark": {"type": "text", "font": "DejaVu Sans", "fontSize": 10, "fill": "#000000", "align": "center", "baseline": "middle"},
      "encoding": {
        "x": {"field": "i", "type": "quantitative", "scale": {"domain": [-3.75, 177.1875], "nice": false, "zero": false, "padding": 0}, "axis": null},
        "y": {"datum": -20.1, "type": "quantitative", "scale": {"domain": [-34.3, 403.35], "nice": false, "zero": false}, "axis": null},
        "text": {"field": "day", "type": "nominal"}
      }
    },
    {
      "mark": {"type": "rule", "color": "#9a9a9a", "strokeWidth": 1.5},
      "encoding": {
        "x": {"datum": 176.37, "type": "quantitative", "scale": {"domain": [-3.75, 177.1875], "nice": false, "zero": false, "padding": 0}, "axis": null},
        "y": {"datum": 25.75, "type": "quantitative", "scale": {"domain": [-34.3, 403.35], "nice": false, "zero": false}, "axis": null},
        "y2": {"datum": -34.3}
      }
    }
  ]
}
